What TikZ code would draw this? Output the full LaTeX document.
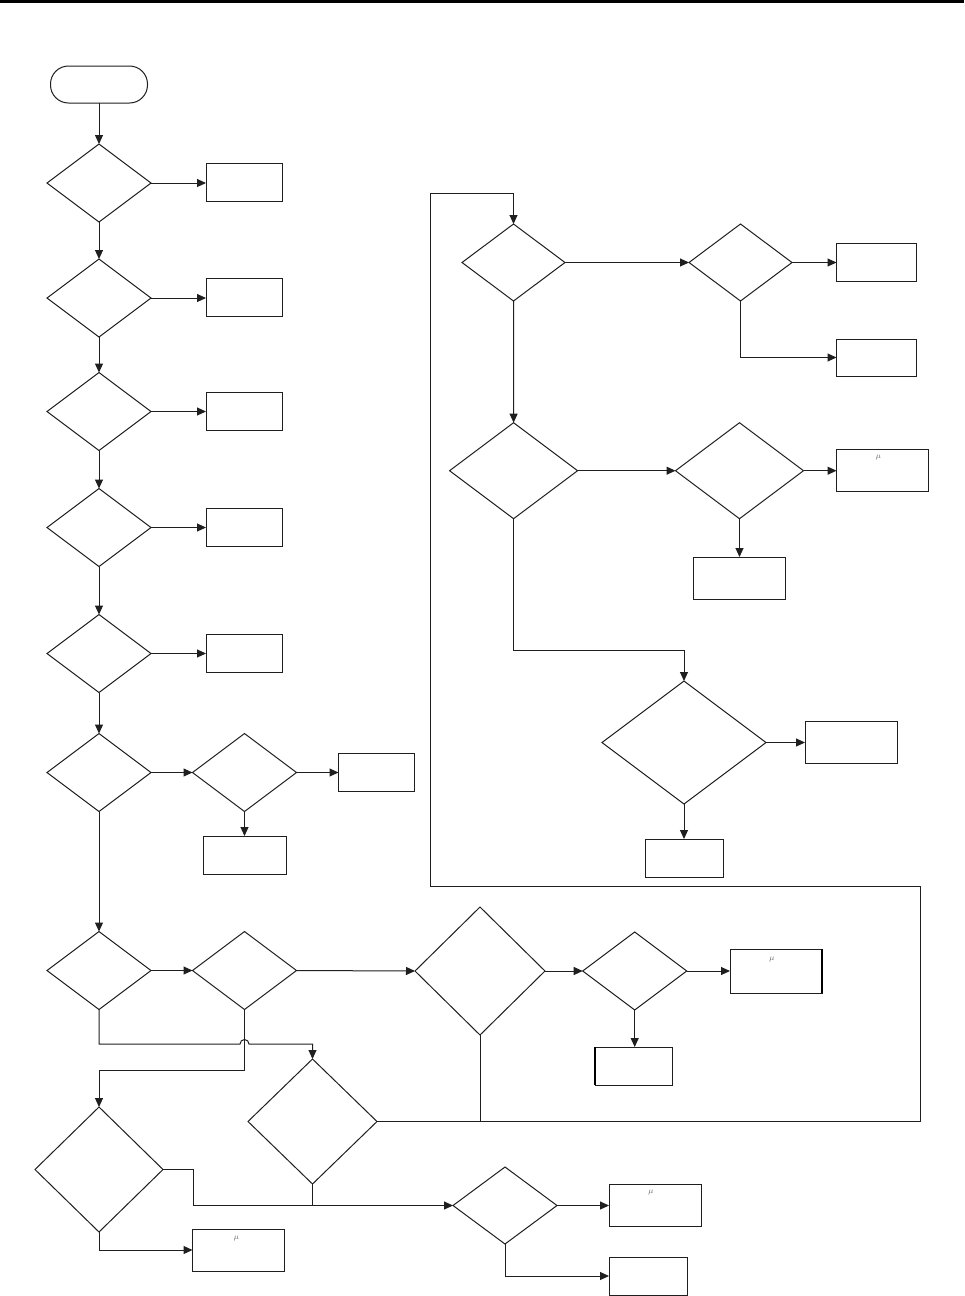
\documentclass[tikz,border=0pt]{standalone}
\usetikzlibrary{shapes.geometric,arrows.meta,calc}
\begin{document}
\begin{tikzpicture}[x=1pt,y=-1pt,
  every node/.style={inner sep=0pt,outer sep=0pt},
  ln/.style={line width=1pt,draw=black!88},
  arr/.style={ln,-{Triangle[length=9pt,width=8pt]}},
  dia/.style 2 args={ln,diamond,minimum width=#1pt,minimum height=#2pt},
  sdia/.style={dia={104}{78}},
  bx/.style 2 args={ln,rectangle,minimum width=#1pt,minimum height=#2pt},
  sbx/.style={bx={76}{38}},
  mu/.style={text=black!60,font=\fontsize{8}{8}\selectfont}
]
\useasboundingbox (0,0) rectangle (964,1296);
\fill[white] (0,0) rectangle (964,1296);
\draw[line width=2.5pt] (0,1.25) -- (964,1.25);

% start
\node[ln,rectangle,rounded corners=18pt,minimum width=97pt,minimum height=37pt] (st) at (99,84.5) {};

% left column
\node[sdia] (D1) at (99,183) {};
\node[sbx] (B1) at (244,182) {};
\node[sdia] (D2) at (99,298) {};
\node[sbx] (B2) at (244,297) {};
\node[sdia] (D3) at (99,411.5) {};
\node[sbx] (B3) at (244,411) {};
\node[sdia] (D4) at (99,527.5) {};
\node[sbx] (B4) at (244,527) {};
\node[sdia] (D5) at (99,653.5) {};
\node[sbx] (B5) at (244,653) {};
\node[sdia] (D6) at (99,772.5) {};
\node[sdia] (D6b) at (244.5,772.5) {};
\node[sbx] (B6a) at (376.5,772.5) {};
\node[bx={83}{38}] (B6b) at (244.5,855) {};
\node[sdia] (D7) at (99,970.5) {};
\node[sdia] (D7b) at (244.5,970.5) {};
\node[dia={130}{128}] (D8) at (480,971) {};
\node[sdia] (D8b) at (634.7,971) {};
\node[bx={92}{44}] (B8c) at (776,971) {};
\node[bx={77}{38}] (B8d) at (633.5,1066) {};
\node[dia={129}{125}] (D9) at (312.5,1121.5) {};
\node[dia={128}{125}] (D10) at (99,1169.5) {};
\node[dia={104}{77}] (D11) at (505,1205.5) {};
\node[bx={92}{42}] (B10a) at (238.5,1250) {};
\node[bx={92}{42}] (B11a) at (655,1205) {};
\node[bx={78}{38}] (B11b) at (648,1276) {};

% right section
\node[dia={103}{77}] (R1) at (513.5,262.5) {};
\node[dia={103}{77}] (R2) at (740.5,262.5) {};
\node[bx={80}{38}] (R2a) at (876.5,262) {};
\node[bx={80}{37}] (R2b) at (876.5,357.5) {};
\node[dia={128}{96}] (R3) at (513.6,470.7) {};
\node[dia={128}{96}] (R4) at (739.5,470.7) {};
\node[bx={92}{42}] (R4a) at (882.5,470) {};
\node[bx={92}{42}] (R4b) at (739,578) {};
\node[dia={164}{123}] (R5) at (684,742.5) {};
\node[bx={92}{42}] (R5a) at (851,742) {};
\node[bx={78}{38}] (R5b) at (684,858) {};

% thicker edges
\draw[line width=2pt] (B8c.north east) -- (B8c.south east);
\draw[line width=2pt] (B8d.north west) -- (B8d.south west);

% mu labels
\node[mu] (m1) at ($(R4a.north)+(-4,9)$) {$\mu$};
\node[mu] (m2) at ($(B8c.north)+(-4,11)$) {$\mu$};
\node[mu] (m3) at ($(B11a.north)+(-4,9)$) {$\mu$};
\node[mu] (m4) at ($(B10a.north)+(-2,10)$) {$\mu$};

% coordinates
\coordinate (hy) at (0,1044);
\coordinate (j2) at (0,1070);
\coordinate (k) at (193,0);
\coordinate (lp1) at (920.5,886);
\coordinate (lp2) at (430,886);
\coordinate (lp3) at (430,193.3);
\coordinate (m) at (0,650);

% left column connectors
\draw[arr] (st.south) -- (D1.north);
\draw[arr] (D1.south) -- (D2.north);
\draw[arr] (D2.south) -- (D3.north);
\draw[arr] (D3.south) -- (D4.north);
\draw[arr] (D4.south) -- (D5.north);
\draw[arr] (D5.south) -- (D6.north);
\draw[arr] (D6.south) -- (D7.north);
\draw[arr] (D1.east) -- (D1.east -| B1.west);
\draw[arr] (D2.east) -- (D2.east -| B2.west);
\draw[arr] (D3.east) -- (D3.east -| B3.west);
\draw[arr] (D4.east) -- (D4.east -| B4.west);
\draw[arr] (D5.east) -- (D5.east -| B5.west);
\draw[arr] (D6.east) -- (D6b.west);
\draw[arr] (D6b.east) -- (D6b.east -| B6a.west);
\draw[arr] (D6b.south) -- (D6b.south |- B6b.north);

% lower section
\draw[arr] (D7.east) -- (D7b.west);
\draw[arr] (D7b.east) -- (D8.west);
\draw[arr] (D8.east) -- (D8b.west);
\draw[arr] (D8b.east) -- (D8b.east -| B8c.west);
\draw[arr] (D8b.south) -- (D8b.south |- B8d.north);
\draw[arr] (D7.south) |- ($(D7b.south |- hy)+(-4.5,0)$)
  arc[start angle=180,end angle=0,radius=4.5pt] -| (D9.north);
\draw[arr] (D7b.south) |- (D10.north |- j2) -- (D10.north);
\draw[arr] (D10.east) -- (k |- D10.east) |- (D11.west);
\draw[ln] (D9.south) -- (D9.south |- D11.west);
\draw[arr] (D10.south) |- (B10a.west);
\draw[arr] (D11.east) -- (D11.east -| B11a.west);
\draw[arr] (D11.south) |- (B11b.west);
\draw[ln] (D8.south) -- (D8.south |- D9.east);
\draw[arr] (D9.east) -| (lp1) -- (lp2) -- (lp3) -| (R1.north);

% right section connectors
\draw[arr] (R1.east) -- (R2.west);
\draw[arr] (R2.east) -- (R2.east -| R2a.west);
\draw[arr] (R2.south) |- (R2b.west);
\draw[arr] (R1.south) -- (R3.north);
\draw[arr] (R3.east) -- (R4.west);
\draw[arr] (R4.east) -- (R4.east -| R4a.west);
\draw[arr] (R4.south) -- (R4.south |- R4b.north);
\draw[arr] (R3.south) |- (R5.north |- m) -- (R5.north);
\draw[arr] (R5.east) -- (R5.east -| R5a.west);
\draw[arr] (R5.south) -- (R5.south |- R5b.north);
\end{tikzpicture}
\end{document}
